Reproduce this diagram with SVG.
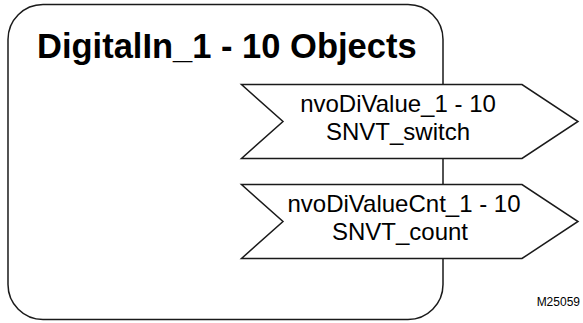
<svg xmlns="http://www.w3.org/2000/svg" width="583" height="323" viewBox="0 0 583 323">
  <style>
    .frame { fill: #ffffff; stroke: #1a1a1a; stroke-width: 1.5; }
    .nv { fill: #ffffff; stroke: #1a1a1a; stroke-width: 1.5; stroke-linejoin: miter; }
    .title { font-family: "Liberation Sans", Arial, sans-serif; font-weight: bold; font-size: 34.5px; fill: #000000; }
    .lbl { font-family: "Liberation Sans", Arial, sans-serif; font-size: 24px; fill: #000000; text-anchor: middle; }
    .ref { font-family: "Liberation Sans", Arial, sans-serif; font-size: 12px; fill: #000000; text-anchor: end; }
  </style>

  <!-- Object block -->
  <g id="digitalin-object">
    <rect class="frame" x="8" y="4.5" width="435" height="315" rx="35" ry="35"/>
    <text class="title" x="37" y="58">DigitalIn_1 - 10 Objects</text>
  </g>

  <!-- Output network variables -->
  <g id="connectors">
    <g id="nvoDiValue">
      <polygon class="nv" points="241.5,84.5 522,84.5 578,121.5 522,158.5 241.5,158.5 283,121.5"/>
      <text class="lbl" x="398" y="112">nvoDiValue_1 - 10</text>
      <text class="lbl" x="398" y="140">SNVT_switch</text>
    </g>
    <g id="nvoDiValueCnt">
      <polygon class="nv" points="241.5,184.5 522,184.5 578,221.5 522,258.5 241.5,258.5 283,221.5"/>
      <text class="lbl" x="404" y="212">nvoDiValueCnt_1 - 10</text>
      <text class="lbl" x="400" y="240">SNVT_count</text>
    </g>
  </g>

  <text class="ref" x="580" y="306">M25059</text>
</svg>
